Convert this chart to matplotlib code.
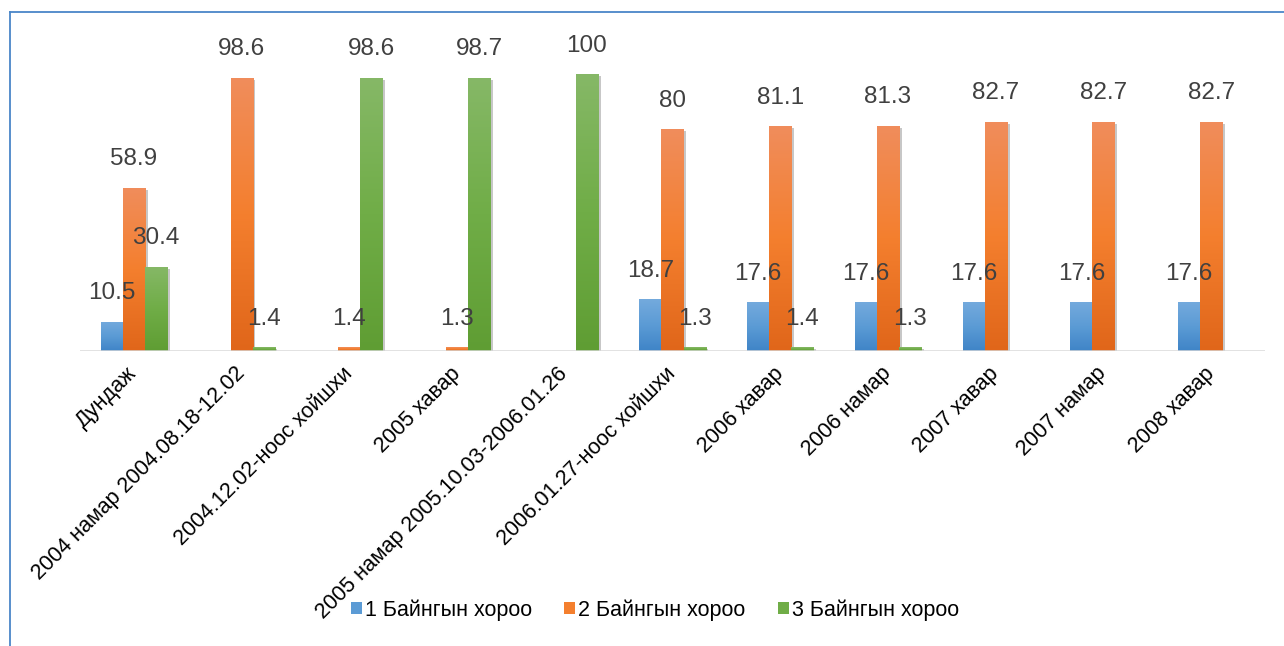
import numpy as np
import matplotlib
matplotlib.use('Agg')
import matplotlib.pyplot as plt
from matplotlib.colors import LinearSegmentedColormap
from matplotlib.lines import Line2D
from matplotlib.patches import Patch
import matplotlib.patheffects as pe

plt.rcParams['font.family'] = ['Liberation Sans', 'DejaVu Sans']

categories = ['Дундаж', '2004 намар 2004.08.18-12.02', '2004.12.02-ноос хойшхи',
              '2005 хавар', '2005 намар 2005.10.03-2006.01.26', '2006.01.27-ноос хойшхи',
              '2006 хавар', '2006 намар', '2007 хавар', '2007 намар', '2008 хавар']
series_names = ['1 Байнгын хороо', '2 Байнгын хороо', '3 Байнгын хороо']
s1 = [10.5, 0, 0, 0, 0, 18.7, 17.6, 17.6, 17.6, 17.6, 17.6]
s2 = [58.9, 98.6, 1.4, 1.3, 0, 80, 81.1, 81.3, 82.7, 82.7, 82.7]
s3 = [30.4, 1.4, 98.6, 98.7, 100, 1.3, 1.4, 1.3, 0, 0, 0]

# gradient colours: bottom, middle, top
grad_cols = [['#3f84c7', '#5b9bd5', '#74aadd'],
             ['#e0661a', '#f47f2e', '#f08d5c'],
             ['#5f9d33', '#70ad47', '#86b867']]

W, H = 1284, 646
fig = plt.figure(figsize=(W / 100, H / 100), dpi=100)
ax_left, ax_right, ax_bot, ax_top = 80, 1265, 351, 30
ax = fig.add_axes([ax_left / W, 1 - ax_bot / H, (ax_right - ax_left) / W, (ax_bot - ax_top) / H])

x = np.arange(len(categories))
width = 0.205
grad = np.linspace(0, 1, 256).reshape(-1, 1)

for i, vals in enumerate([s1, s2, s3]):
    bot, mid, top = grad_cols[i]
    cmap = LinearSegmentedColormap.from_list('g%d' % i, [bot, mid, top])
    bars = ax.bar(x + (i - 1) * width, vals, width, color=mid, zorder=2, linewidth=0)
    for b, v in zip(bars, vals):
        if v == 0:
            b.set_visible(False)
            continue
        b.set_path_effects([pe.SimplePatchShadow(offset=(2, -1.5), shadow_rgbFace='k', alpha=0.22),
                            pe.Normal()])
        x0, y0 = b.get_xy()
        im = ax.imshow(grad, extent=[x0, x0 + b.get_width(), y0, y0 + b.get_height()],
                       origin='lower', cmap=cmap, aspect='auto', zorder=3, interpolation='bilinear')
        im.set_clip_path(b)
        ax.annotate(f'{v:g}', (b.get_x() + b.get_width() / 2, v), xytext=(0, 20.5),
                    textcoords='offset points', ha='center', va='center',
                    fontsize=17.5, color='#404040', zorder=5)

ax.set_xlim(-0.5, len(categories) - 0.5)
ax.set_ylim(0, 100 * (ax_bot - ax_top) / 277)
ax.axhline(0, color='#d9d9d9', lw=1.8, zorder=4)
for s in ax.spines.values():
    s.set_visible(False)
ax.set_yticks([])
ax.set_xticks(x, categories, rotation=45, ha='right', va='center', rotation_mode='anchor', fontsize=15.5)
ax.tick_params(axis='x', length=0, pad=14)

handles = [Patch(facecolor=c[1], edgecolor='none') for c in grad_cols]
fig.legend(handles, series_names, loc='center', bbox_to_anchor=(655 / W, 1 - 610 / H), ncol=3,
           frameon=False, fontsize=15.5, handlelength=0.5, handleheight=0.5, handletextpad=0.15,
           columnspacing=1.5)

# outer frame (extends past the right/bottom edge)
fc = '#4a86c8'
fig.add_artist(Line2D([10 / W, 1.0], [1 - 12 / H] * 2, transform=fig.transFigure, color=fc, lw=1.3))
fig.add_artist(Line2D([10 / W] * 2, [0, 1 - 12 / H], transform=fig.transFigure, color=fc, lw=1.3))

fig.savefig('out.png', dpi=100)
